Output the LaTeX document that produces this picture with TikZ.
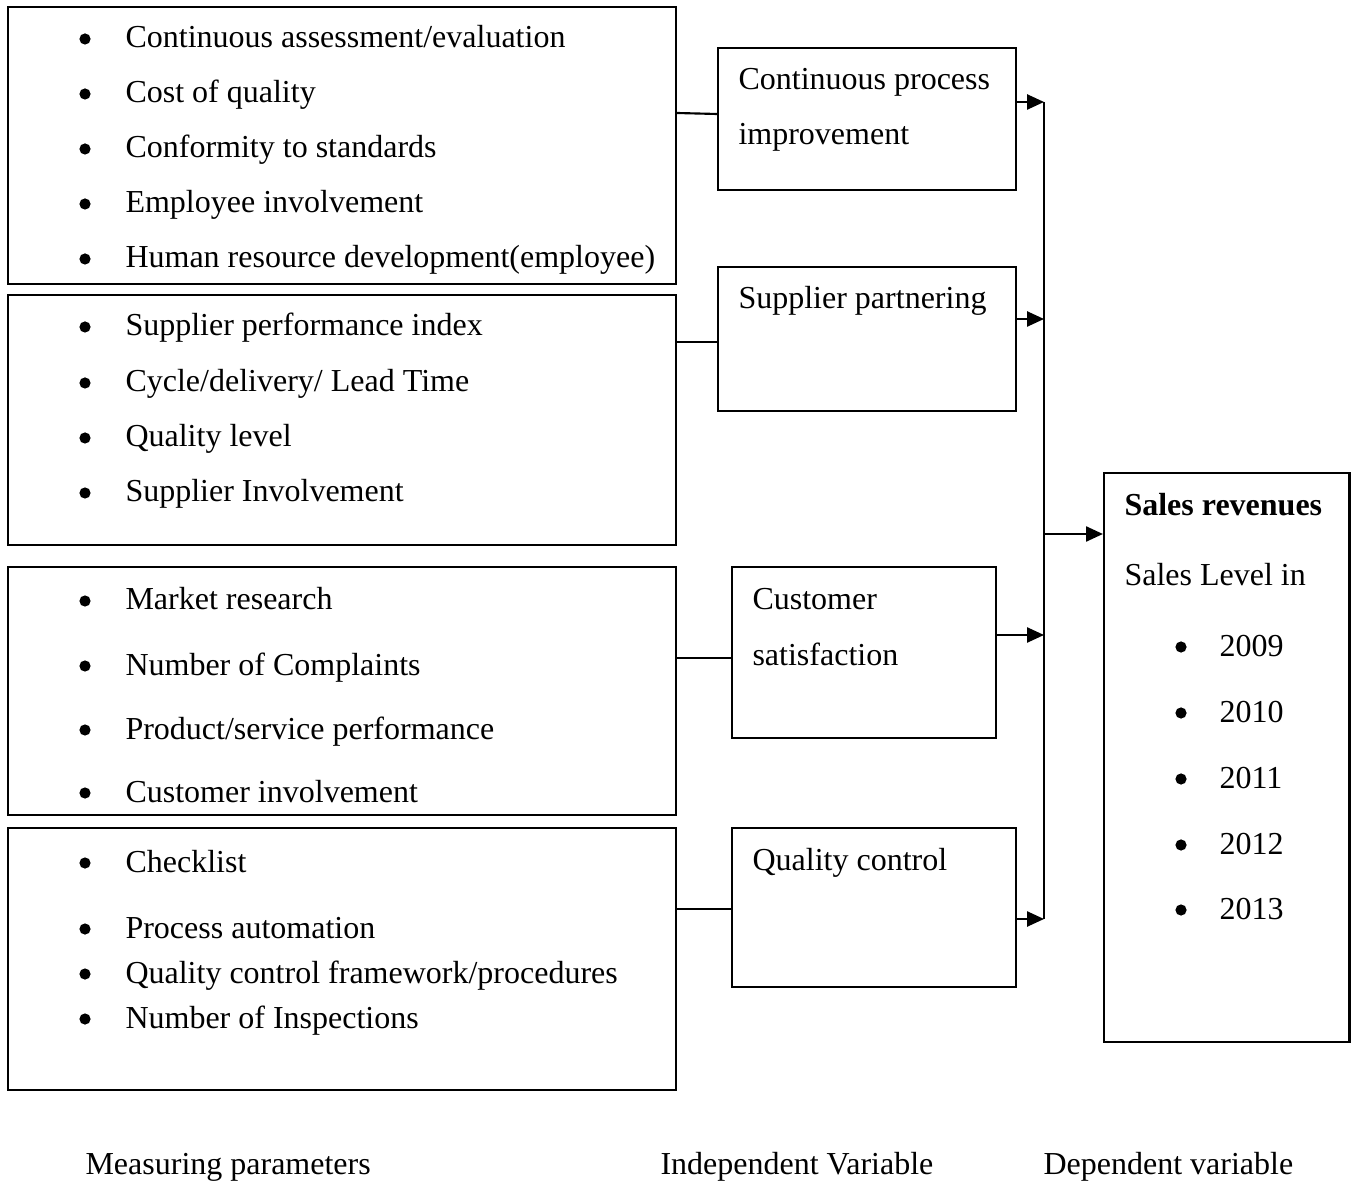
\documentclass[tikz,border=0pt]{standalone}
\usepackage{fontspec}
\setmainfont{Liberation Serif}
\usetikzlibrary{arrows.meta,fit}
\newcommand\bitem[5]{%
  \node[txt] (#1) at (#3,#2+2) {#5};
  \fill (#4,#2-7) circle[radius=2.1pt];}
\begin{document}
\begin{tikzpicture}[x=0.375pt,y=-0.375pt,
  box/.style={draw,line width=0.8pt,inner sep=0pt},
  txt/.style={anchor=base west,inner sep=0pt,font=\fontsize{12}{14}\selectfont},
  conn/.style={line width=0.8pt},
  arr/.style={line width=0.8pt,-{Triangle[length=6.3pt,width=5.6pt]}}]
\useasboundingbox (0,0) rectangle (1351,1182);
% left boxes
\node[box,fit={(8,7) (676,284)}] (b1) {};
\node[box,fit={(8,295) (676,545)}] (b2) {};
\node[box,fit={(8,567) (676,815)}] (b3) {};
\node[box,fit={(8,828) (676,1090)}] (b4) {};
% middle boxes
\node[box,fit={(718,48) (1016,190)}] (m1) {};
\node[box,fit={(718,267) (1016,411)}] (m2) {};
\node[box,fit={(732,567) (996,738)}] (m3) {};
\node[box,fit={(732,828) (1016,987)}] (m4) {};
% sales box
\node[box,fit={(1104,473) (1349.5,1042)}] (s) {};
% left texts
\bitem{a1}{46}{125}{85}{Continuous assessment/evaluation}
\bitem{a2}{101}{125}{85}{Cost of quality}
\bitem{a3}{156}{125}{85}{Conformity to standards}
\bitem{a4}{211}{125}{85}{Employee involvement}
\bitem{a5}{266}{125}{85}{Human resource development(employee)}
\bitem{c1}{334}{125}{85}{Supplier performance index}
\bitem{c2}{390}{125}{85}{Cycle/delivery/ Lead Time}
\bitem{c3}{445}{125}{85}{Quality level}
\bitem{c4}{500}{125}{85}{Supplier Involvement}
\bitem{d1}{608}{125}{85}{Market research}
\bitem{d2}{673}{125}{85}{Number of Complaints}
\bitem{d3}{737}{125}{85}{Product/service performance}
\bitem{d4}{800}{125}{85}{Customer involvement}
\bitem{e1}{870}{125}{85}{Checklist}
\bitem{e2}{936}{125}{85}{Process automation}
\bitem{e3}{981}{125}{85}{Quality control framework/procedures}
\bitem{e4}{1026}{125}{85}{Number of Inspections}
% middle texts
\node[txt] (m1a) at (738,90) {Continuous process};
\node[txt] (m1b) at (738,145) {improvement};
\node[txt] (m2a) at (738,309) {Supplier partnering};
\node[txt] (m3a) at (752,610) {Customer};
\node[txt] (m3b) at (752,665) {satisfaction};
\node[txt] (m4a) at (752,870) {Quality control};
% sales texts
\node[txt,font=\fontsize{12}{14}\selectfont\bfseries] (s1) at (1124,516) {Sales revenues};
\node[txt] (s2) at (1124,586) {Sales Level in};
\bitem{y1}{654}{1219}{1181}{2009}
\bitem{y2}{720}{1219}{1181}{2010}
\bitem{y3}{786}{1219}{1181}{2011}
\bitem{y4}{852}{1219}{1181}{2012}
\bitem{y5}{917}{1219}{1181}{2013}
% bottom labels
\node[txt] (l1) at (85,1174) {Measuring parameters};
\node[txt] (l2) at (660,1174) {Independent Variable};
\node[txt] (l3) at (1043,1174) {Dependent variable};
% connectors left -> middle
\draw[conn] (b1.east |- 0,113) -- (m1.west |- 0,114);
\draw[conn] (b2.east |- 0,342) -- (m2.west |- 0,342);
\draw[conn] (b3.east |- 0,658) -- (m3.west |- 0,658);
\draw[conn] (b4.east |- 0,909) -- (m4.west |- 0,909);
% bus
\coordinate (t1) at (1044,102);
\coordinate (t2) at (1044,319);
\coordinate (t3) at (1044,635);
\coordinate (t4) at (1044,919);
\coordinate (t5) at (1044,534);
\draw[conn] (t1) -- (t4);
\draw[arr] (m1.east |- t1) -- (t1);
\draw[arr] (m2.east |- t2) -- (t2);
\draw[arr] (m3.east |- t3) -- (t3);
\draw[arr] (m4.east |- t4) -- (t4);
\draw[arr] (t5) -- (s.west |- t5);
\end{tikzpicture}
\end{document}
